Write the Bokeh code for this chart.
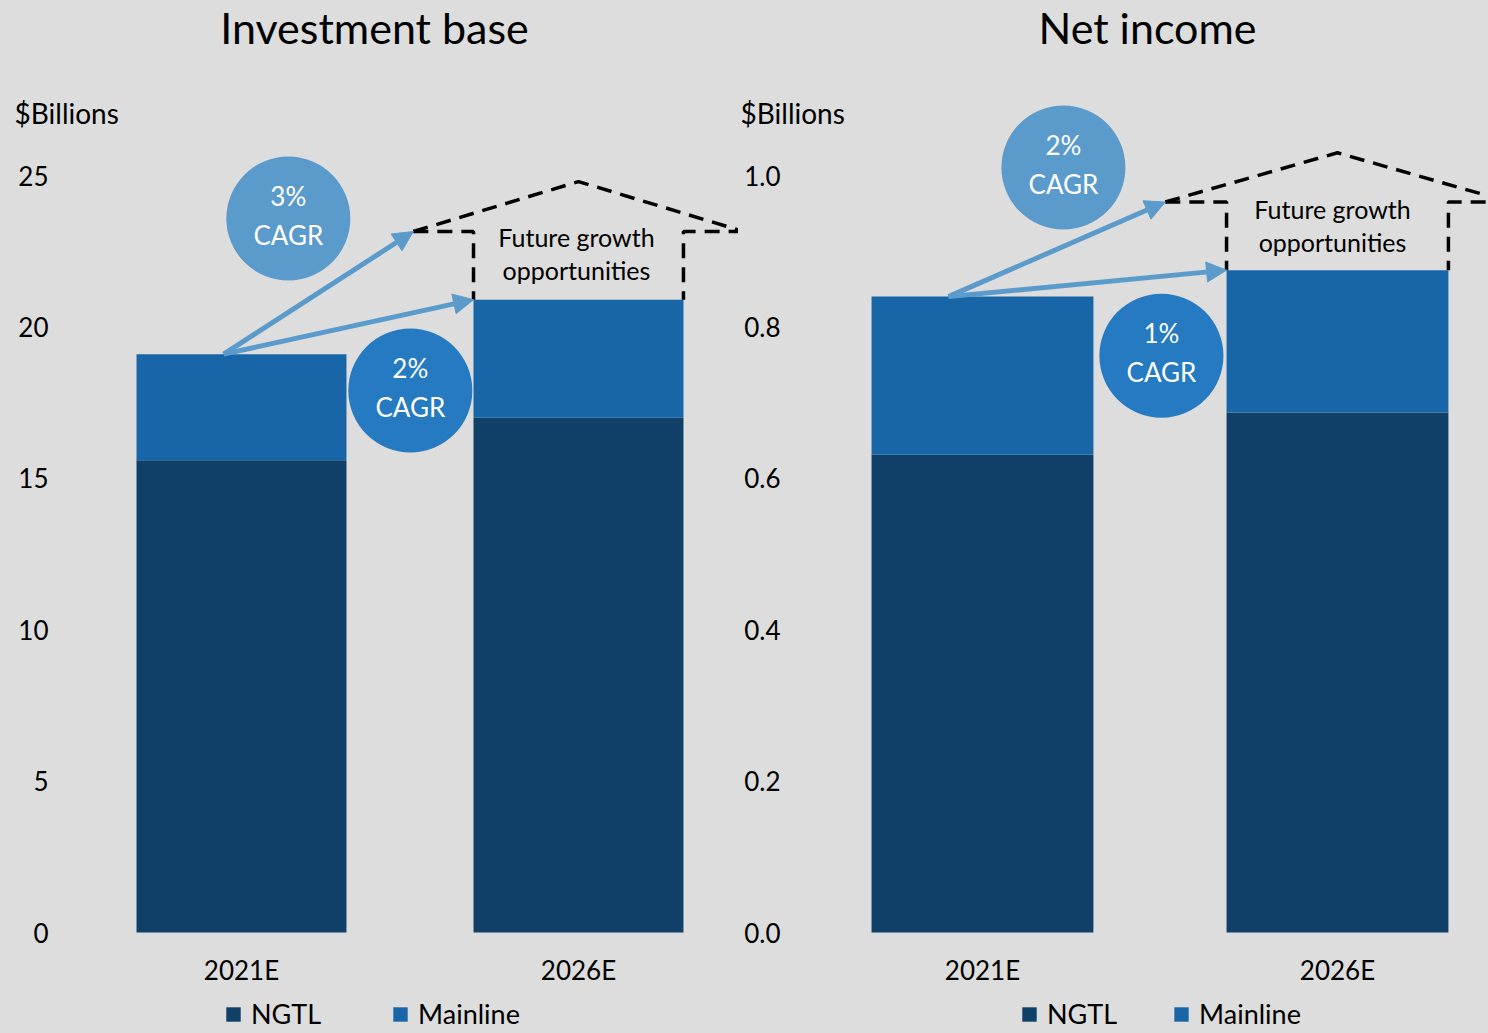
from bokeh.plotting import figure
from bokeh.models import (Range1d, FixedTicker, NumeralTickFormatter, Label, Legend,
                          LegendItem, Arrow, NormalHead, ColumnDataSource)
from bokeh.layouts import row
from bokeh.embed import file_html
from bokeh.resources import INLINE
from bokeh.core.properties import value

# ---------------- data ----------------
categories = ["2021E", "2026E"]
series_names = ["NGTL", "Mainline"]

inv_ngtl = [15.6, 17.0]
inv_mainline = [3.5, 3.9]
inv_yticks = [0, 5, 10, 15, 20, 25]

ni_ngtl = [0.631, 0.687]
ni_mainline = [0.209, 0.188]
ni_yticks = [0.0, 0.2, 0.4, 0.6, 0.8, 1.0]

inv_cagr = ["3%", "2%"]          # upper arrow, lower arrow
ni_cagr = ["2%", "1%"]
inv_future_level = 23.15          # dashed "future growth" eave level
inv_roof_peak = 24.8
ni_future_level = 0.965
ni_roof_peak = 1.03
future_text = "Future growth\nopportunities"

# ---------------- style ----------------
BG = "#dddddd"
C_NGTL = "#104068"
C_MAIN = "#1866a7"
C_LIGHT = "#5b9bcc"
C_MID = "#257ac2"
FONT = "Lato"
FIG_H = 1030
ZERO_PX = 932          # pixel row of the value 0 (from top)


def make_panel(title, ngtl, mainline, yticks, fmt, cagr, future_level, roof_peak,
               width, x_range, px_per_unit, bar_width, ylab_standoff,
               arrow_dx, up_arrow_x, circ_up, circ_low, text_pos,
               title_x, billions_x, legend_x, legend_spacing):
    y_start = -(FIG_H - ZERO_PX) / px_per_unit
    y_end = ZERO_PX / px_per_unit
    p = figure(width=width, height=FIG_H, output_backend="svg", toolbar_location=None,
               x_range=Range1d(*x_range), y_range=Range1d(y_start, y_end),
               min_border_left=0, min_border_right=0, min_border_top=0, min_border_bottom=0)
    p.background_fill_color = BG
    p.border_fill_color = BG
    p.outline_line_color = None
    p.grid.visible = False

    xs = list(range(len(categories)))
    src = ColumnDataSource(dict(x=xs, NGTL=ngtl, Mainline=mainline))
    rs = p.vbar_stack(series_names, x="x", width=bar_width, source=src,
                      color=[C_NGTL, C_MAIN], line_color=None)

    totals = [a + b for a, b in zip(ngtl, mainline)]
    left_edge = xs[1] - bar_width / 2
    right_edge = xs[1] + bar_width / 2
    roof_right = 2 * xs[1] - up_arrow_x

    # dashed "house" outline
    dash = dict(line_color="black", line_width=3.5, line_dash="15 9")
    p.line([up_arrow_x, xs[1], roof_right], [future_level, roof_peak, future_level], **dash)
    p.line([up_arrow_x, left_edge, left_edge], [future_level, future_level, totals[1]], **dash)
    p.line([roof_right, right_edge, right_edge], [future_level, future_level, totals[1]], **dash)

    # CAGR circles
    p.scatter([circ_up[0]], [circ_up[1]], size=124, marker="circle",
              fill_color=C_LIGHT, line_color=None)
    p.scatter([circ_low[0]], [circ_low[1]], size=124, marker="circle",
              fill_color=C_MID, line_color=None)
    p.text([circ_up[0], circ_low[0]], [circ_up[1], circ_low[1]],
           text=[c + "\nCAGR" for c in cagr], text_color="white",
           text_font=value(FONT), text_font_size="26px", text_align="center",
           text_baseline="middle", text_line_height=1.2, y_offset=-3)

    # arrows
    x0 = xs[0] + arrow_dx
    for (xe, ye) in [(up_arrow_x, future_level), (left_edge, totals[1])]:
        p.add_layout(Arrow(x_start=x0, y_start=totals[0], x_end=xe, y_end=ye,
                           line_color=C_LIGHT, line_width=5,
                           end=NormalHead(size=20, fill_color=C_LIGHT, line_color=C_LIGHT)))

    p.text([text_pos[0]], [text_pos[1]], text=[future_text], text_color="black",
           text_font=value(FONT), text_font_size="25px", text_align="center",
           text_baseline="middle", text_line_height=1.1)

    # axes (labels drawn inside the full-size frame)
    p.xaxis.ticker = FixedTicker(ticks=xs)
    p.xaxis.major_label_overrides = {i: c for i, c in enumerate(categories)}
    p.yaxis.ticker = FixedTicker(ticks=yticks)
    p.yaxis.formatter = NumeralTickFormatter(format=fmt)
    for ax in (p.xaxis[0], p.yaxis[0]):
        ax.axis_line_color = None
        ax.major_tick_line_color = None
        ax.minor_tick_line_color = None
        ax.major_tick_out = 0
        ax.major_tick_in = 0
        ax.major_label_text_font = FONT
        ax.major_label_text_font_size = "26px"
        ax.major_label_text_color = "black"
    p.xaxis.major_label_standoff = 953 - FIG_H
    p.yaxis.major_label_standoff = ylab_standoff

    # titles
    p.add_layout(Label(x=title_x, y=FIG_H - 44 + 17, x_units="screen", y_units="screen",
                       text=title, text_font=FONT, text_font_size="43px", text_align="center",
                       text_baseline="alphabetic", text_color="black"))
    p.add_layout(Label(x=billions_x, y=FIG_H - 124 + 12, x_units="screen", y_units="screen",
                       text="$Billions", text_font=FONT, text_font_size="28px",
                       text_align="left", text_baseline="alphabetic", text_color="black"))

    legend = Legend(items=[LegendItem(label=n, renderers=[r]) for n, r in zip(series_names, rs)],
                    orientation="horizontal", location=(legend_x, 0), spacing=legend_spacing,
                    padding=2, margin=0, glyph_width=18, glyph_height=18, label_standoff=9,
                    background_fill_alpha=0, border_line_color=None,
                    label_text_font=FONT, label_text_font_size="27px", label_text_color="black")
    p.add_layout(legend, "center")
    return p


left = make_panel("Investment base", inv_ngtl, inv_mainline, inv_yticks, "0", inv_cagr,
                  inv_future_level, inv_roof_peak,
                  width=738, x_range=(-0.7151, 1.4748), px_per_unit=30.28,
                  bar_width=0.623, ylab_standoff=-48,
                  arrow_dx=-0.053, up_arrow_x=0.51,
                  circ_up=(0.139, 23.58), circ_low=(0.501, 17.9), text_pos=(0.994, 22.41),
                  title_x=374, billions_x=14, legend_x=224, legend_spacing=70)

right = make_panel("Net income", ni_ngtl, ni_mainline, ni_yticks, "0.0", ni_cagr,
                   ni_future_level, ni_roof_peak,
                   width=750, x_range=(-0.6873, 1.4254), px_per_unit=757.0,
                   bar_width=0.625, ylab_standoff=-42,
                   arrow_dx=-0.096, up_arrow_x=0.515,
                   circ_up=(0.228, 1.0106), circ_low=(0.504, 0.762), text_pos=(0.986, 0.9346),
                   title_x=409, billions_x=2, legend_x=282, legend_spacing=55)

layout = row(left, right)
html = file_html(layout, INLINE)
html = html.replace("</head>", "<style>html, body { background: #dddddd; }</style></head>", 1)
open("out.html", "w").write(html)
